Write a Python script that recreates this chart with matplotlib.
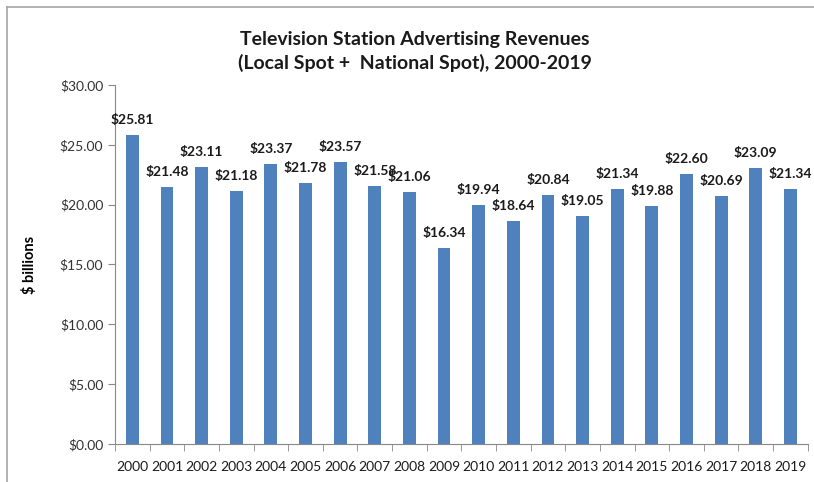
import numpy as np
import matplotlib
matplotlib.use("Agg")
import matplotlib.pyplot as plt
from matplotlib.lines import Line2D

plt.rcParams["font.family"] = ["Lato", "DejaVu Sans"]

years = [str(y) for y in range(2000, 2020)]
revenue = [25.81, 21.48, 23.11, 21.18, 23.37, 21.78, 23.57, 21.58, 21.06, 16.34,
           19.94, 18.64, 20.84, 19.05, 21.34, 19.88, 22.60, 20.69, 23.09, 21.34]
yticks = [0, 5, 10, 15, 20, 25, 30]

fig = plt.figure(figsize=(8.14, 4.82), dpi=100)
ax = fig.add_axes([0.1413, 0.0788, 0.851, 0.745])

x = np.arange(len(years))
ax.bar(x, revenue, width=0.37, color="#4F81BD", zorder=2)
for xi, v in zip(x, revenue):
    ax.text(xi, v + 0.75, "$%.2f" % v, ha="center", va="bottom",
            fontsize=10, fontweight="bold", color="#1a1a1a")

ax.set_xlim(-0.5, len(years) - 0.5)
ax.set_ylim(0, 30)
ax.set_yticks(yticks)
ax.set_yticklabels(["$%.2f" % t for t in yticks], fontsize=10, color="#333333")
ax.set_xticks(x)
ax.set_xticklabels(years, fontsize=10, color="#1a1a1a")
ax.tick_params(axis="x", length=0, pad=12)
ax.set_xticks(np.arange(-0.5, len(years), 1), minor=True)
ax.tick_params(axis="x", which="minor", length=5, color="#888888")
ax.tick_params(axis="y", length=5, color="#888888")

for s in ["top", "right"]:
    ax.spines[s].set_visible(False)
for s in ["left", "bottom"]:
    ax.spines[s].set_color("#888888")

ax.set_ylabel("$ billions", fontsize=10.5, fontweight="bold", labelpad=16)

fig.text(0.51, 0.893, "Television Station Advertising Revenues\n(Local Spot +  National Spot), 2000-2019",
         ha="center", va="center", fontsize=14, fontweight="bold",
         linespacing=1.4, color="#1a1a1a")

# chart frame
fig.add_artist(Line2D([7 / 814, 7 / 814], [0, 1 - 7 / 482], color="#a6a6a6", lw=1.2))
fig.add_artist(Line2D([7 / 814, 1], [1 - 7 / 482, 1 - 7 / 482], color="#a6a6a6", lw=1.2))

fig.savefig("out.png", dpi=100)
